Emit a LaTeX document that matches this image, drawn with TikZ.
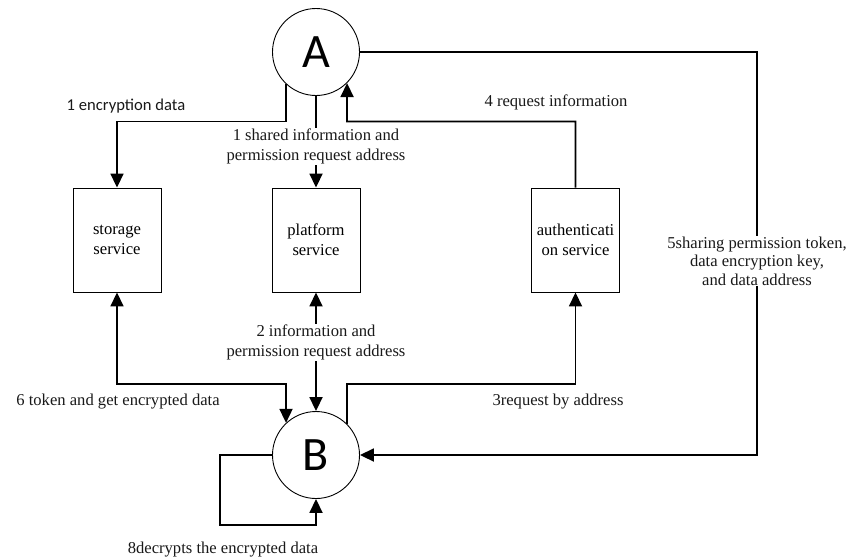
\documentclass[tikz,border=0pt]{standalone}
\usepackage{fontspec}
\setmainfont{Liberation Serif}
\newfontfamily\serffont{Liberation Serif}
\newfontfamily\carlfont{Carlito}
\usetikzlibrary{arrows.meta}
\begin{document}
\begin{tikzpicture}[x=1pt,y=-1pt,
  actor/.style={circle,draw,line width=0.9pt,minimum size=87pt,inner sep=0pt,font=\carlfont\fontsize{48}{48}\selectfont},
  svc/.style={rectangle,draw,line width=0.9pt,minimum width=88pt,minimum height=104pt,inner sep=1pt,align=center,font=\serffont\fontsize{16.6}{20}\selectfont},
  lbl/.style={align=center,inner sep=1pt,text=black!90,font=\serffont\fontsize{16.6}{19.5}\selectfont},
  conn/.style={line width=1.8pt,-{Triangle[length=14pt,width=13pt]}},
  conn2/.style={line width=1.8pt,{Triangle[length=14pt,width=13pt]}-{Triangle[length=14pt,width=13pt]}}]
\useasboundingbox (0,0) rectangle (850,558);
\fill[white] (0,0) rectangle (850,558);

\node[actor] (A) at (316,52) {A};
\node[actor] (B) at (316,455) {B};
\node[svc] (storage) at (117,240) {storage\\service};
\node[svc] (platform) at (316,240) {platform\\service};
\node[svc] (auth) at (575.5,240) {authenticati\\on service};

\coordinate (c1) at (117,121.5);
\coordinate (c2) at (347,121.5);
\coordinate (c3) at (757,455);
\coordinate (c4) at (286,384);
\coordinate (c5) at (575.5,384);
\coordinate (c6) at (220,525);

% 1 encryption data
\draw[conn] (A.227) |- (c1) -- (storage.north);
\node[lbl,font=\carlfont\fontsize{16.6}{19.5}\selectfont] (l1) at (126,106) {1 encryption data};

% 1 shared information
\draw[conn] (A.south) -- node[pos=0.55,lbl,fill=white] (l1b) {1 shared information and\\permission request address} (platform.north);

% 4 request information
\draw[conn] (auth.north) |- (c2) -- (A.315);
\node[lbl] (l4) at (556,102) {4 request information};

% 5 sharing
\draw[conn] (A.east) -| (c3) -- (B.east);
\node[lbl,fill=white,font=\serffont\fontsize{16.6}{18.5}\selectfont] (l5) at (757,261) {5sharing permission token,\\data encryption key,\\and data address};

% 6 token
\draw[conn2] (storage.south) |- (c4) -- (B.133);
\node[lbl] (l6) at (118,402) {6 token and get encrypted data};

% 2 information
\draw[conn2] (B.north) -- node[pos=0.58,lbl,fill=white] (l2) {2 information and\\permission request address} (platform.south);

% 3 request by address
\draw[conn] (B.45) |- (c5) -- (auth.south);
\node[lbl] (l3) at (558,402) {3request by address};

% 8 decrypts
\draw[conn] (B.west) -| (c6) -| (B.south);
\node[lbl] (l8) at (223,550) {8decrypts the encrypted data};
\end{tikzpicture}
\end{document}
